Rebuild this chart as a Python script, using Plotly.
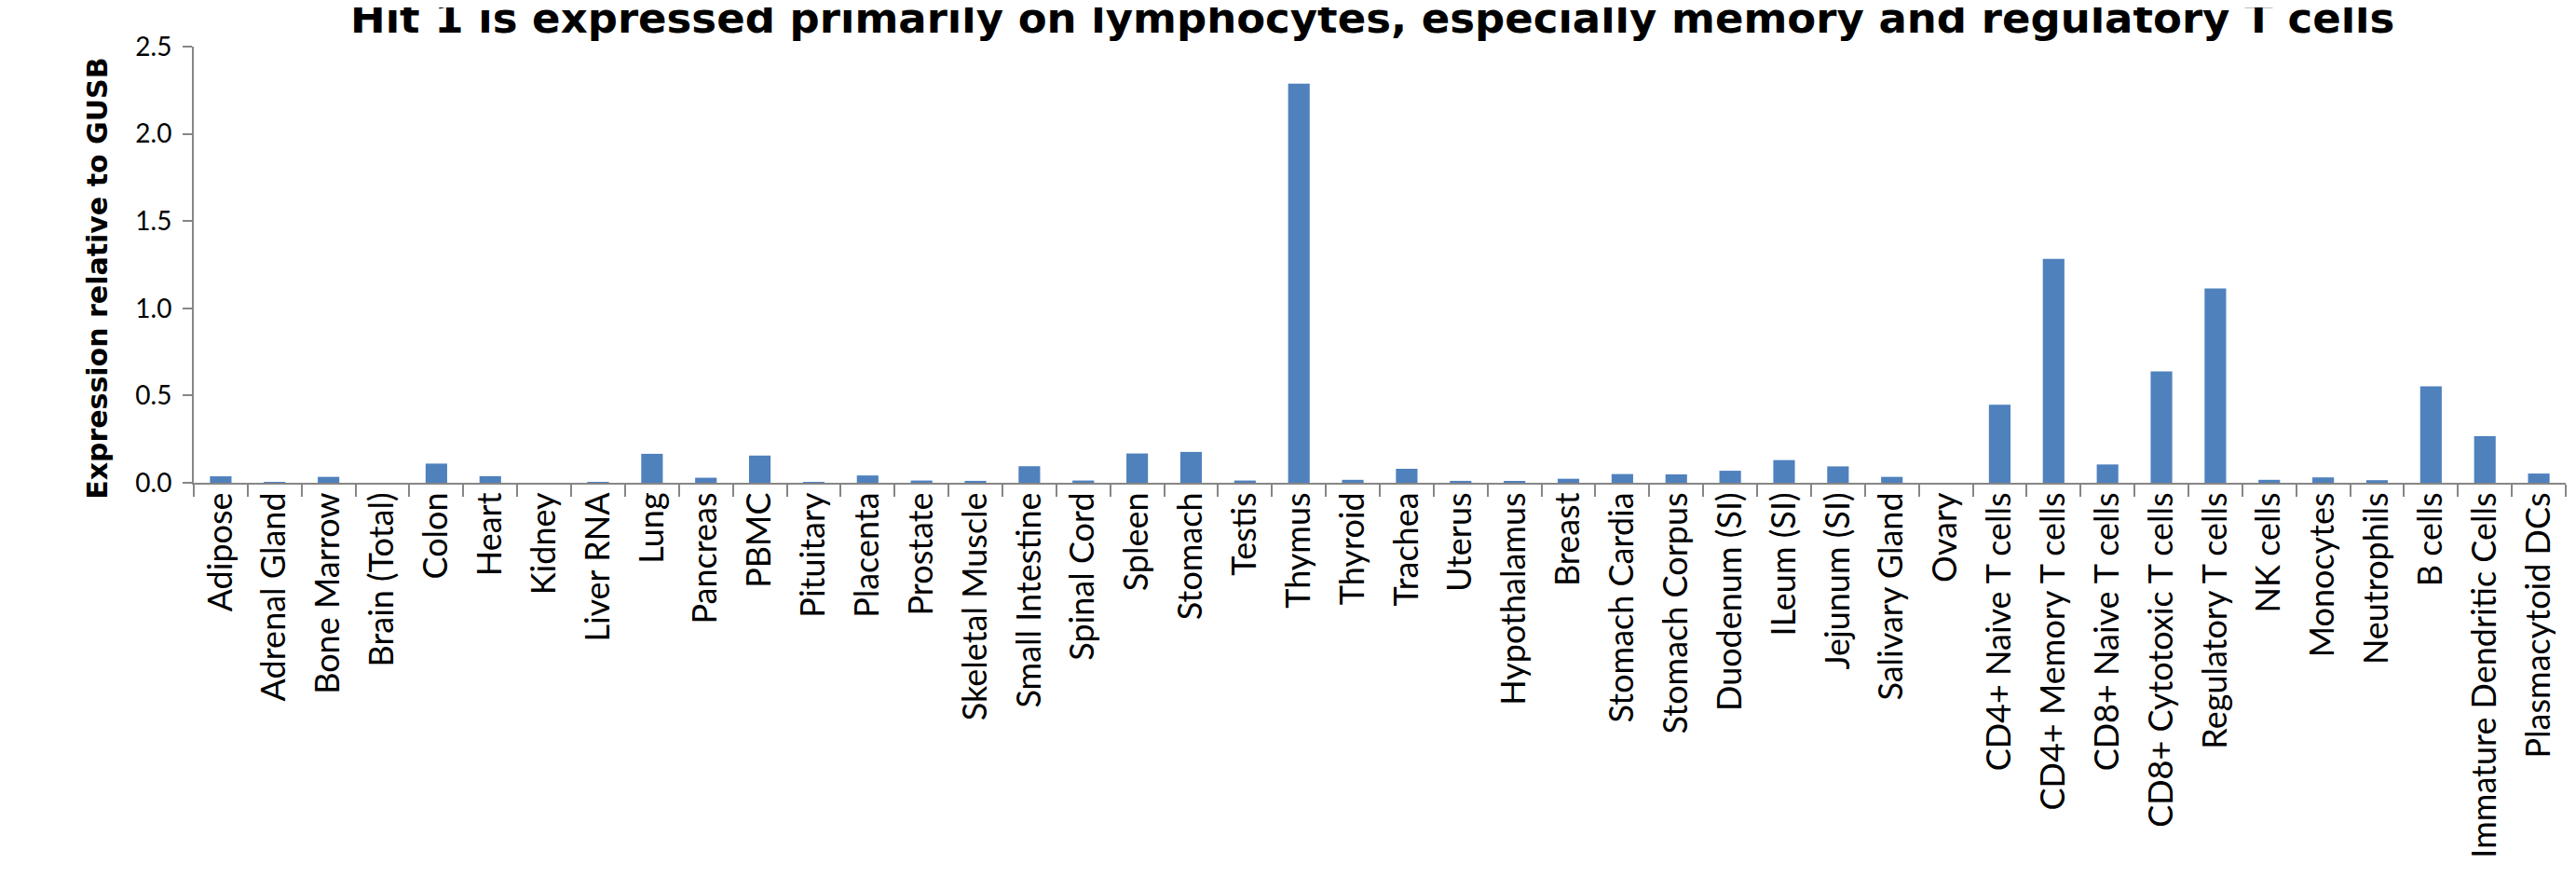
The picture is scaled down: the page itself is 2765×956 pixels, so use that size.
import plotly.graph_objects as go

categories = [
    "Adipose", "Adrenal Gland", "Bone Marrow", "Brain (Total)", "Colon", "Heart",
    "Kidney", "Liver RNA", "Lung", "Pancreas", "PBMC", "Pituitary", "Placenta",
    "Prostate", "Skeletal Muscle", "Small Intestine", "Spinal Cord", "Spleen",
    "Stomach", "Testis", "Thymus", "Thyroid", "Trachea", "Uterus", "Hypothalamus",
    "Breast", "Stomach Cardia", "Stomach Corpus", "Duodenum (SI)", "ILeum (SI)",
    "Jejunum (SI)", "Salivary Gland", "Ovary", "CD4+ Naive T cells",
    "CD4+ Memory T cells", "CD8+ Naive T cells", "CD8+ Cytotoxic T cells",
    "Regulatory T cells", "NK cells", "Monocytes", "Neutrophils", "B cells",
    "Immature Dendritic Cells", "Plasmacytoid DCs",
]

expression = [
    0.037, 0.004, 0.034, 0.0, 0.110, 0.038,
    0.0, 0.004, 0.166, 0.029, 0.156, 0.003, 0.042,
    0.013, 0.011, 0.095, 0.013, 0.168,
    0.177, 0.013, 2.288, 0.017, 0.080, 0.011, 0.006,
    0.023, 0.050, 0.048, 0.069, 0.130,
    0.094, 0.034, 0.0, 0.448,
    1.284, 0.105, 0.639,
    1.114, 0.017, 0.031, 0.015, 0.553,
    0.267, 0.053,
]

y_ticks = [0.0, 0.5, 1.0, 1.5, 2.0, 2.5]
y_tick_labels = ["0.0", "0.5", "1.0", "1.5", "2.0", "2.5"]

title_text = "Hit 1 is expressed primarily on lymphocytes, especially memory and regulatory T cells"
y_title_text = "Expression relative to GUSB"

axis_color = "#868686"

fig = go.Figure()
fig.add_trace(go.Bar(
    x=categories,
    y=expression,
    marker=dict(color="#4F81BD", line=dict(width=0)),
    width=0.4,
))

fig.update_layout(
    width=2765,
    height=956,
    margin=dict(l=200, r=19, t=42, b=446),
    paper_bgcolor="white",
    plot_bgcolor="white",
    showlegend=False,
    bargap=0.6,
)

fig.update_xaxes(
    type="category",
    showgrid=False,
    showline=True,
    linecolor=axis_color,
    linewidth=2,
    ticks="outside",
    tickson="boundaries",
    ticklen=13,
    tickwidth=1.5,
    tickcolor=axis_color,
    tickangle=-90,
    tickfont=dict(family="Lato", size=36, color="black"),
    ticklabelstandoff=-6,
    zeroline=False,
)

fig.update_yaxes(
    range=[0, 2.5],
    tickvals=y_ticks,
    ticktext=y_tick_labels,
    showgrid=False,
    showline=True,
    linecolor=axis_color,
    linewidth=2,
    ticks="outside",
    ticklen=10,
    tickwidth=1.5,
    tickcolor=axis_color,
    tickfont=dict(family="Lato", size=28, color="black"),
    ticklabelstandoff=6,
    zeroline=False,
)

fig.add_annotation(
    text=title_text,
    xref="paper", yref="paper",
    x=0.497, y=1.066,
    xanchor="center", yanchor="middle",
    showarrow=False,
    font=dict(family="DejaVu Sans", size=45, color="black", weight="bold"),
)

fig.add_annotation(
    text=y_title_text,
    xref="paper", yref="paper",
    x=-0.0405, y=0.468,
    xanchor="center", yanchor="middle",
    textangle=-90,
    showarrow=False,
    font=dict(family="DejaVu Sans", size=30, color="black", weight="bold"),
)

fig.write_html("out.html")
